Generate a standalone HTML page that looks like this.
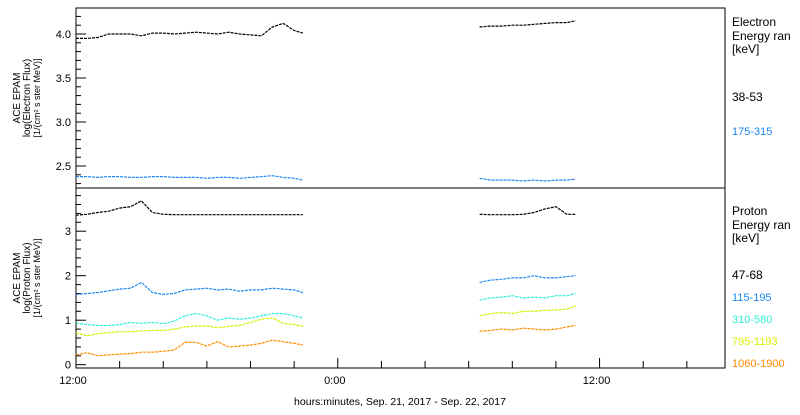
<!DOCTYPE html>
<html><head><meta charset="utf-8"><style>
body{margin:0;background:#fff;}
svg text{font-family:"Liberation Sans",sans-serif;}
</style></head><body>
<svg id="c" width="800" height="410" xmlns="http://www.w3.org/2000/svg"></svg>
<script>
// hours since 12:00 Sep 21
const seg1Hours=[0,0.5,1,1.5,2,2.5,3,3.5,4,4.5,5,5.5,6,6.5,7,7.5,8,8.5,9,9.5,10,10.4];
const seg2Hours=[18.5,19,19.5,20,20.5,21,21.5,22,22.5,22.9];
const e38_1=[3.95,3.95,3.96,4.0,4.0,4.0,3.98,4.01,4.01,4.0,4.01,4.02,4.01,4.0,4.02,4.0,3.99,3.98,4.08,4.12,4.04,4.01];
const e38_2=[4.08,4.09,4.09,4.1,4.1,4.11,4.12,4.13,4.13,4.15];
const e175_1=[2.38,2.38,2.37,2.38,2.38,2.37,2.37,2.38,2.38,2.37,2.37,2.37,2.36,2.37,2.37,2.36,2.37,2.38,2.39,2.37,2.36,2.34];
const e175_2=[2.36,2.34,2.34,2.34,2.33,2.34,2.33,2.34,2.34,2.35];
const p47_1=[3.36,3.38,3.42,3.45,3.52,3.55,3.68,3.42,3.38,3.37,3.37,3.37,3.37,3.37,3.37,3.37,3.37,3.37,3.37,3.37,3.37,3.37];
const p47_2=[3.38,3.37,3.37,3.37,3.38,3.42,3.5,3.55,3.38,3.38];
const p115_1=[1.58,1.6,1.62,1.66,1.7,1.72,1.85,1.62,1.58,1.6,1.68,1.7,1.72,1.68,1.7,1.65,1.68,1.68,1.72,1.7,1.68,1.62];
const p115_2=[1.85,1.9,1.92,1.95,1.95,2.0,1.95,1.95,1.98,2.0];
const p310_1=[0.93,0.9,0.88,0.88,0.9,0.95,0.93,0.95,0.92,0.98,1.1,1.15,1.1,1.0,1.05,1.02,1.05,1.1,1.15,1.15,1.1,1.05];
const p310_2=[1.45,1.5,1.52,1.55,1.5,1.52,1.5,1.55,1.55,1.6];
const p795_1=[0.72,0.65,0.7,0.72,0.74,0.74,0.76,0.77,0.77,0.8,0.85,0.87,0.87,0.83,0.86,0.88,0.95,1.02,1.05,0.93,0.9,0.86];
const p795_2=[1.1,1.15,1.17,1.15,1.2,1.2,1.22,1.23,1.25,1.32];
const p1060_1=[0.22,0.27,0.2,0.22,0.24,0.25,0.28,0.28,0.3,0.33,0.5,0.5,0.42,0.52,0.4,0.42,0.44,0.48,0.55,0.52,0.48,0.44];
const p1060_2=[0.75,0.77,0.8,0.78,0.82,0.8,0.78,0.8,0.85,0.88];
const xTickLabels=["12:00","0:00","12:00"];
const topTicks=[2.5,3.0,3.5,4.0];
const botTicks=[0,1,2,3];

const svg=document.getElementById('c');
const NS="http://www.w3.org/2000/svg";
const X0=76,X1=725,HMAX=29.75;
const x=h=>X0+(X1-X0)*h/HMAX;
const TT=8,TB=188,BT=188,BB=368;
const yTop=v=>166-(v-2.5)*88;
const yBot=v=>364.7-v*44.5;
function el(t,a,p){const e=document.createElementNS(NS,t);for(const k in a)e.setAttribute(k,a[k]);(p||svg).appendChild(e);return e;}
function txt(s,a){const e=el('text',a);e.textContent=s;return e;}

let f=el('rect',{x:X0,y:TT,width:X1-X0,height:BB-TT,fill:'none',stroke:'#000','stroke-width':1});


let d=el('line',{x1:X0,x2:X1,y1:188,y2:188,stroke:'#000'});



for(let v=2.3;v<=4.25;v+=0.1){const yy=yTop(v);if(yy<TT||yy>TB)continue;const maj=Math.abs(v*2-Math.round(v*2))<0.01;
 const t=el('line',{x1:X0,x2:X0+(maj?10:5),y1:yy,y2:yy,stroke:'#000'});
 
 }
topTicks.forEach(v=>{const t=txt(v.toFixed(1),{x:X0-5,y:yTop(v)+4,'text-anchor':'end','font-size':11});
 
 });
for(let v=0;v<=3.9;v+=0.2){const yy=yBot(v);const maj=Math.abs(v-Math.round(v))<0.01;
 const t=el('line',{x1:X0,x2:X0+(maj?10:5),y1:yy,y2:yy,stroke:'#000'});
 
 }
botTicks.forEach(v=>{const t=txt(String(v),{x:X0-5,y:yBot(v)+4,'text-anchor':'end','font-size':11});
 
 });
for(let h=0;h<=HMAX;h+=2){const maj=h%12===0;
 const t=el('line',{x1:x(h),x2:x(h),y1:BB,y2:BB-(maj?10:7),stroke:'#000'});
 
 }
xTickLabels.forEach((s,i)=>{const t=txt(s,{x:x(i*12)-3,y:384,'text-anchor':'middle','font-size':11});
 
 });
let xl=txt('hours:minutes, Sep. 21, 2017 - Sep. 22, 2017',{x:400,y:405,'text-anchor':'middle','font-size':10.5});



function ytitle(lines,cy,name){const g=el('g',{transform:`translate(0,${cy}) rotate(-90)`});
 
 
 lines.forEach((s,i)=>{const t=el('text',{x:0,y:20+i*10,'text-anchor':'middle','font-size':i==2?9:10},g);t.textContent=s;});}
ytitle(['ACE EPAM','log(Electron Flux)','[1/(cm² s ster MeV)]'],98,'top-y-axis-title');
ytitle(['ACE EPAM','log(Proton Flux)','[1/(cm² s ster MeV)]'],278,'bottom-y-axis-title');

function series(hs,vs,ys,col,name){const pts=hs.map((h,i)=>x(h).toFixed(1)+','+ys(vs[i]).toFixed(1)).join(' ');
 const p=el('polyline',{points:pts,fill:'none',stroke:col,'stroke-width':1.2,'stroke-dasharray':'3,1'});
 
 }
series(seg1Hours,e38_1,yTop,'#000','electron-38-53-line');series(seg2Hours,e38_2,yTop,'#000','electron-38-53-line');
series(seg1Hours,e175_1,yTop,'#1e88f0','electron-175-315-line');series(seg2Hours,e175_2,yTop,'#1e88f0','electron-175-315-line');
series(seg1Hours,p47_1,yBot,'#000','proton-47-68-line');series(seg2Hours,p47_2,yBot,'#000','proton-47-68-line');
series(seg1Hours,p115_1,yBot,'#1e88f0','proton-115-195-line');series(seg2Hours,p115_2,yBot,'#1e88f0','proton-115-195-line');
series(seg1Hours,p310_1,yBot,'#30f0d8','proton-310-580-line');series(seg2Hours,p310_2,yBot,'#30f0d8','proton-310-580-line');
series(seg1Hours,p795_1,yBot,'#d8f000','proton-795-1193-line');series(seg2Hours,p795_2,yBot,'#d8f000','proton-795-1193-line');
series(seg1Hours,p1060_1,yBot,'#ff8c00','proton-1060-1900-line');series(seg2Hours,p1060_2,yBot,'#ff8c00','proton-1060-1900-line');

function lab(s,yy,col,name,fs){const t=txt(s,{x:732,y:yy,'font-size':fs||12,fill:col});
 
 }
lab('Electron',26,'#000','electron-legend-title');lab('Energy ran',40,'#000','electron-legend-subtitle');lab('[keV]',53,'#000','electron-legend-unit');
lab('38-53',101,'#000','legend-38-53');lab('175-315',135,'#1e88f0','legend-175-315',11);
lab('Proton',215,'#000','proton-legend-title');lab('Energy ran',229,'#000','proton-legend-subtitle');lab('[keV]',242,'#000','proton-legend-unit');
lab('47-68',279,'#000','legend-47-68');lab('115-195',301,'#1e88f0','legend-115-195',11);lab('310-580',323,'#30f0d8','legend-310-580',11);
lab('795-1193',345,'#d8f000','legend-795-1193',11);lab('1060-1900',367,'#ff8c00','legend-1060-1900',11);
</script>
</body></html>
